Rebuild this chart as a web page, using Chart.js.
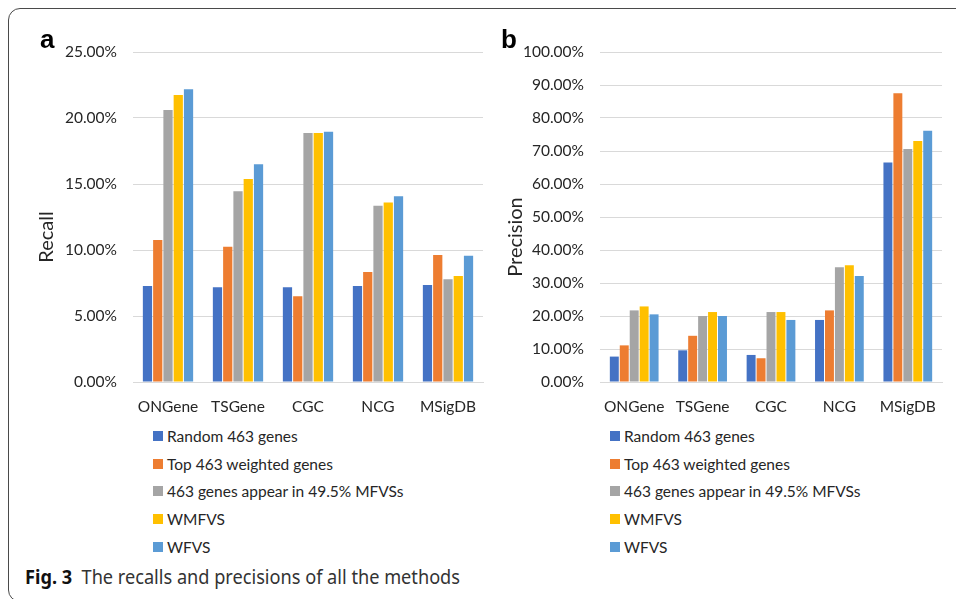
<!DOCTYPE html>
<html>
<head>
<meta charset="utf-8">
<script src="https://cdn.jsdelivr.net/npm/chart.js@4.4.0/dist/chart.umd.min.js"></script>
<style>
  html, body { margin: 0; padding: 0; background: #fff; }
  body { width: 956px; height: 599px; position: relative; overflow: hidden; font-family: Lato, sans-serif; }
  .frame { position: absolute; left: 8px; top: 8px; width: 980px; height: 594px;
           border: 1.5px solid #4a4a4a; border-radius: 12px; box-sizing: border-box; }
  .panel { position: absolute; top: 0; height: 420px; }
  .letter { position: absolute; top: 26px; font: bold 26px "Liberation Sans", Arial, sans-serif; line-height: 1; color: #000; }
  .legend { position: absolute; top: 422px; font-size: 15.5px; color: #262626; }
  .legend .row { height: 27.7px; display: flex; align-items: center; white-space: nowrap; }
  .legend .box { width: 10px; height: 10px; margin-right: 4px; flex: none; }
  .caption { position: absolute; left: 25px; top: 563px; font-family: "Noto Sans", sans-serif; font-size: 19.5px;
             color: #333; white-space: nowrap; transform-origin: 0 0; }
  .caption b { color: #111; }
</style>
</head>
<body>
<div class="frame"></div>

<div class="panel" style="left:0; width:490px;"><canvas id="recall-chart"></canvas></div>
<div class="panel" style="left:490px; width:466px;"><canvas id="precision-chart"></canvas></div>

<div class="letter" style="left:40px;">a</div>
<div class="letter" style="left:501px;">b</div>

<div class="legend" id="legend-a" style="left:153px;"></div>
<div class="legend" id="legend-b" style="left:610px;"></div>

<div class="caption" id="caption"><b>Fig. 3</b>&nbsp; The recalls and precisions of all the methods</div>

<script>
// categories and series
const categories = ['ONGene', 'TSGene', 'CGC', 'NCG', 'MSigDB'];
const seriesNames = ['Random 463 genes', 'Top 463 weighted genes', '463 genes appear in 49.5% MFVSs', 'WMFVS', 'WFVS'];
const seriesColors = ['#4472C4', '#ED7D31', '#A5A5A5', '#FFC000', '#5B9BD5'];

// recall (%), panel a
const randomRecall = [7.27, 7.17, 7.17, 7.27, 7.35];
const topRecall    = [10.76, 10.25, 6.49, 8.33, 9.62];
const mfvsRecall   = [20.6, 14.45, 18.86, 13.36, 7.78];
const wmfvsRecall  = [21.74, 15.38, 18.86, 13.59, 8.03];
const wfvsRecall   = [22.17, 16.49, 18.96, 14.07, 9.57];

// precision (%), panel b
const randomPrecision = [7.7, 9.6, 8.2, 18.8, 66.5];
const topPrecision    = [11.1, 14.0, 7.2, 21.7, 87.5];
const mfvsPrecision   = [21.7, 20.0, 21.2, 34.8, 70.6];
const wmfvsPrecision  = [22.9, 21.2, 21.2, 35.4, 73.0];
const wfvsPrecision   = [20.5, 20.0, 18.8, 32.1, 76.1];

// axis ticks
const recallMax = 25, recallStep = 5;
const precisionMax = 100, precisionStep = 10;

const textColor = '#262626';
const gridColor = '#D9D9D9';

// draws the rotated y axis title at a fixed spot
const yTitlePlugin = {
    id: 'yTitle',
    afterDraw(chart, args, opts) {
        const ctx = chart.ctx;
        ctx.save();
        ctx.translate(opts.x, opts.y);
        ctx.rotate(-Math.PI / 2);
        ctx.font = '20px Lato, sans-serif';
        ctx.fillStyle = textColor;
        ctx.textAlign = 'center';
        ctx.textBaseline = 'alphabetic';
        ctx.fillText(opts.text, 0, 0);
        ctx.restore();
    }
};

function makeChart(canvasId, seriesData, max, step, yWidth, padRight, title, titleX, catPct) {
    const datasets = seriesData.map((data, i) => ({
        label: seriesNames[i],
        data: data,
        backgroundColor: seriesColors[i],
        categoryPercentage: catPct,
        barPercentage: 0.9
    }));

    return new Chart(document.getElementById(canvasId), {
        type: 'bar',
        data: { labels: categories, datasets: datasets },
        options: {
            responsive: true,
            maintainAspectRatio: false,
            animation: false,
            layout: { padding: { top: 52, right: padRight, bottom: 0, left: 0 } },
            plugins: {
                legend: { display: false },
                tooltip: { enabled: false },
                yTitle: { text: title, x: titleX, y: 237 }
            },
            scales: {
                x: {
                    grid: { display: false },
                    border: { display: true, color: gridColor },
                    ticks: { color: textColor, font: { family: 'Lato', size: 15.5 }, padding: 8, maxRotation: 0 },
                    afterFit(scale) { scale.height = 38; }
                },
                y: {
                    min: 0,
                    max: max,
                    grid: { color: gridColor, drawTicks: false },
                    border: { display: false },
                    ticks: {
                        stepSize: step,
                        padding: 16,
                        color: textColor,
                        font: { family: 'Lato', size: 15.5 },
                        callback: v => v.toFixed(2) + '%'
                    },
                    afterFit(scale) { scale.width = yWidth; }
                }
            }
        },
        plugins: [yTitlePlugin]
    });
}

makeChart('recall-chart',
    [randomRecall, topRecall, mfvsRecall, wmfvsRecall, wfvsRecall],
    recallMax, recallStep, 133, 7, 'Recall', 53, 0.733);

makeChart('precision-chart',
    [randomPrecision, topPrecision, mfvsPrecision, wmfvsPrecision, wfvsPrecision],
    precisionMax, precisionStep, 110, 14, 'Precision', 32, 0.727);

// legends below each panel
['legend-a', 'legend-b'].forEach(id => {
    const el = document.getElementById(id);
    seriesNames.forEach((name, i) => {
        const row = document.createElement('div');
        row.className = 'row';
        const box = document.createElement('span');
        box.className = 'box';
        box.style.background = seriesColors[i];
        const label = document.createElement('span');
        label.textContent = name;
        row.appendChild(box);
        row.appendChild(label);
        el.appendChild(row);
    });
});

// squeeze the caption to the width it has in the figure
const caption = document.getElementById('caption');
const w = caption.getBoundingClientRect().width;
caption.style.transform = 'scaleX(' + (435 / w) + ')';
</script>
</body>
</html>
